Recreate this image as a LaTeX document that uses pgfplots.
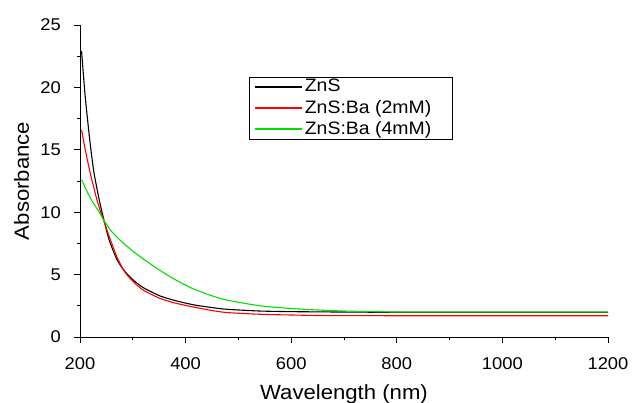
\documentclass[border=0pt]{standalone}
\usepackage{fontspec}
\setmainfont{Liberation Sans}[FakeStretch=1.08]
\usepackage{pgfplots}
\pgfplotsset{compat=1.18}
\definecolor{curvegreen}{RGB}{0,225,0}
\definecolor{curvered}{RGB}{255,0,0}
\begin{document}
\fontsize{18}{20}\selectfont
\begin{tikzpicture}
\useasboundingbox (-80pt,-66pt) rectangle (552pt,337pt);
\begin{axis}[
  scale only axis,
  width=528pt, height=312pt,
  xmin=200, xmax=1200, ymin=0, ymax=25,
  axis x line*=bottom, axis y line*=left,
  axis line style={-, line width=0.9pt},
  xtick={200,400,...,1200}, ytick={0,5,...,25},
  minor x tick num=1, minor y tick num=1,
  tick align=outside,
  major tick length=6pt, minor tick length=3.5pt,
  tick style={line width=0.9pt, black},
  /pgf/number format/assume math mode=true,
  /pgf/number format/1000 sep={},
  ticklabel style={font=\fontsize{17}{19}\selectfont},
  xticklabel style={anchor=north, yshift=-8pt},
  yticklabel style={anchor=east, xshift=-7pt},
  xlabel={Wavelength (nm)},
  ylabel={Absorbance},
  label style={font=\fontsize{20.5}{22}\selectfont},
  xlabel style={at={(axis description cs:0.5,0)}, anchor=base, yshift=-62.5pt},
  ylabel style={at={(axis description cs:0,0.5)}, anchor=base, yshift=51pt},
  legend style={at={(axis description cs:0.320,0.834)}, anchor=north west,
    draw=black, line width=0.8pt, font=\fontsize{18}{19}\selectfont,
    inner xsep=5pt, inner ysep=0pt, row sep=1.5pt},
  legend cell align=left,
  legend image code/.code={\draw[#1, line width=1.5pt] (0pt,0pt) -- (47pt,0pt);},
  every axis plot/.append style={line width=1.1pt, smooth, tension=0.4},
]
\addplot[color=black] coordinates {
(203,22.9) (210,19.2) (219,15.6) (226,13.3) (233,11.7) (240,10.3) (246,9.28)
(255,7.8) (270,6.2) (285,5.25) (301,4.56) (320,3.95) (351,3.3) (380,2.92)
(415,2.58) (450,2.36) (478,2.22) (541,2.08) (604,2.03) (700,2.0) (800,1.98) (1200,1.98)};
\addlegendentry{ZnS}
\addplot[color=curvered] coordinates {
(203,16.6) (210,15.0) (219,13.2) (226,12.0) (232,11.0) (240,9.9) (246,9.2)
(255,8.1) (270,6.4) (285,5.2) (301,4.43) (320,3.75) (351,3.1) (380,2.72)
(415,2.4) (450,2.12) (478,1.96) (541,1.82) (604,1.76) (700,1.71) (1200,1.70)};
\addlegendentry{ZnS:Ba (2mM)\hspace*{14pt}}
\addplot[color=curvegreen] coordinates {
(203,12.6) (220,11.1) (235,10.1) (246,9.3) (260,8.45) (280,7.6) (301,6.85)
(320,6.25) (351,5.35) (380,4.6) (415,3.85) (450,3.3) (478,2.96) (541,2.5)
(604,2.27) (667,2.13) (730,2.05) (800,2.0) (900,1.99) (1200,1.99)};
\addlegendentry{ZnS:Ba (4mM)}
\end{axis}
\end{tikzpicture}
\end{document}
